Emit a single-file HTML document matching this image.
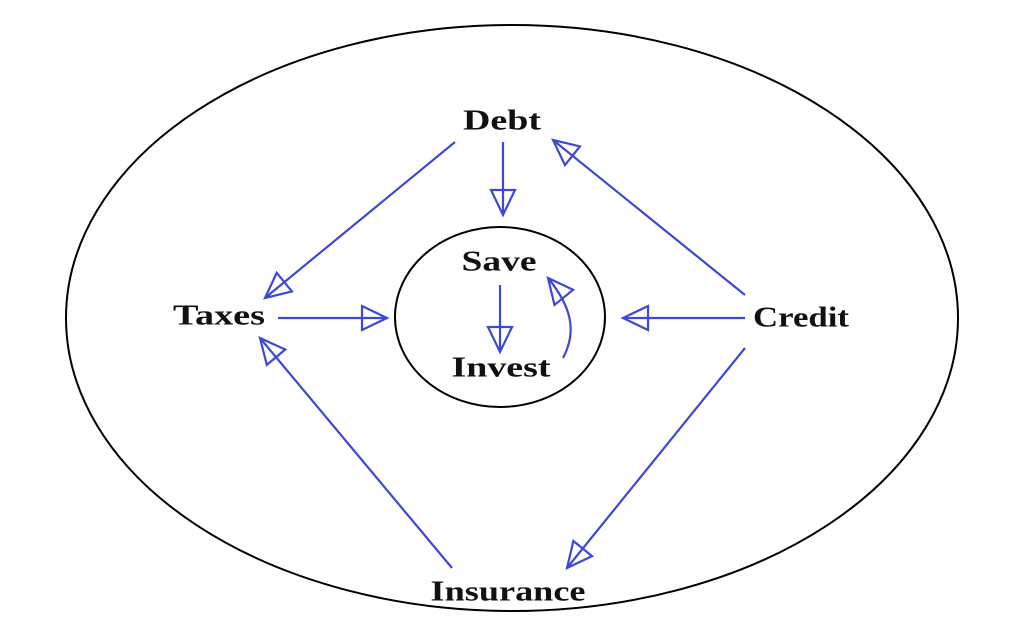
<!DOCTYPE html>
<html><head><meta charset="utf-8"><style>
html,body{margin:0;padding:0;background:#fff;}
svg{display:block;}
text{font-family:"Liberation Serif",serif;font-weight:bold;font-size:28px;fill:#111;text-anchor:middle;dominant-baseline:central;}
</style></head><body>
<svg width="1024" height="640" viewBox="0 0 1024 640">
<defs>
<marker id="a" markerUnits="userSpaceOnUse" markerWidth="30" markerHeight="30" refX="25" refY="12" orient="auto" viewBox="-2 -2 30 28">
<path d="M0,0 L25,12 L0,24 Z" fill="none" stroke="#3d48d6" stroke-width="2.2"/>
</marker>
</defs>
<ellipse cx="512" cy="318" rx="446" ry="293" fill="none" stroke="#000" stroke-width="2"/>
<ellipse cx="500" cy="317" rx="105" ry="90" fill="none" stroke="#000" stroke-width="2"/>
<g stroke="#3d48d6" stroke-width="2.2" fill="none" marker-end="url(#a)">
<line x1="455" y1="142" x2="265" y2="298"/>
<line x1="503" y1="142" x2="503" y2="215"/>
<line x1="745" y1="295" x2="553" y2="140"/>
<line x1="278" y1="318" x2="387" y2="318"/>
<line x1="745" y1="318" x2="623" y2="318"/>
<line x1="452" y1="568" x2="260" y2="338"/>
<line x1="745" y1="348" x2="567" y2="568"/>
<line x1="500" y1="285" x2="500" y2="352"/>
<path d="M563,358 C578,330 570,305 548,278"/>
</g>
<text x="502" y="121" textLength="78" lengthAdjust="spacingAndGlyphs">Debt</text>
<text x="219" y="316" textLength="92" lengthAdjust="spacingAndGlyphs">Taxes</text>
<text x="499" y="262" textLength="75" lengthAdjust="spacingAndGlyphs">Save</text>
<text x="501" y="368" textLength="99" lengthAdjust="spacingAndGlyphs">Invest</text>
<text x="801" y="318" textLength="96" lengthAdjust="spacingAndGlyphs">Credit</text>
<text x="508" y="592" textLength="155" lengthAdjust="spacingAndGlyphs">Insurance</text>
</svg>
</body></html>
